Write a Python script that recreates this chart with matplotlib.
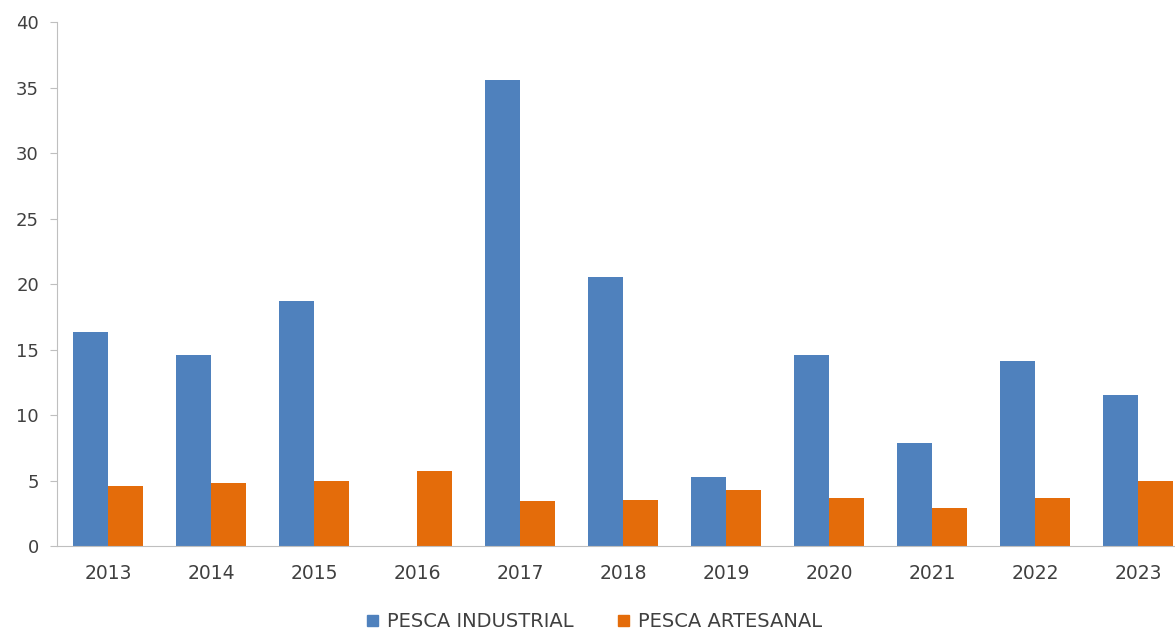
import numpy as np
import matplotlib.pyplot as plt
from matplotlib.patches import Patch

# datos
anios = ['2013', '2014', '2015', '2016', '2017', '2018', '2019', '2020', '2021', '2022', '2023']
pesca_industrial = [16.3, 14.6, 18.7, 0, 35.6, 20.5, 5.3, 14.6, 7.9, 14.1, 11.5]
pesca_artesanal = [4.6, 4.8, 5.0, 5.7, 3.4, 3.5, 4.3, 3.7, 2.9, 3.7, 5.0]

azul = '#4F81BD'
naranja = '#E46C0A'
gris = '#404040'

fig = plt.figure(figsize=(11.75, 6.33), dpi=100)
ax = fig.add_axes([0.0485, 0.1374, 0.9515, 0.8278])

x = np.arange(len(anios))
w = 0.34
ax.bar(x - w/2, pesca_industrial, w, color=azul, label='PESCA INDUSTRIAL')
ax.bar(x + w/2, pesca_artesanal, w, color=naranja, label='PESCA ARTESANAL')

ax.set_xlim(-0.5, 10.36)
ax.set_ylim(0, 40)
ax.set_yticks(range(0, 41, 5))
ax.set_xticks(x)
ax.set_xticklabels(anios)

for s in ['top', 'right']:
    ax.spines[s].set_visible(False)
ax.spines['left'].set_color('#bfbfbf')
ax.spines['bottom'].set_color('#bfbfbf')
ax.tick_params(axis='y', colors='#bfbfbf', labelcolor=gris, labelsize=13, length=5, pad=8)
ax.tick_params(axis='x', length=0, labelcolor=gris, labelsize=13.5, pad=13)

handles = [Patch(color=azul), Patch(color=naranja)]
fig.legend(handles, ['PESCA INDUSTRIAL', 'PESCA ARTESANAL'], loc='lower center',
           bbox_to_anchor=(0.506, -0.025), ncol=2, frameon=False, fontsize=14,
           handlelength=0.55, handleheight=0.55, handletextpad=0.45, columnspacing=2.3,
           labelcolor=gris)

fig.savefig('out.png', dpi=100)
